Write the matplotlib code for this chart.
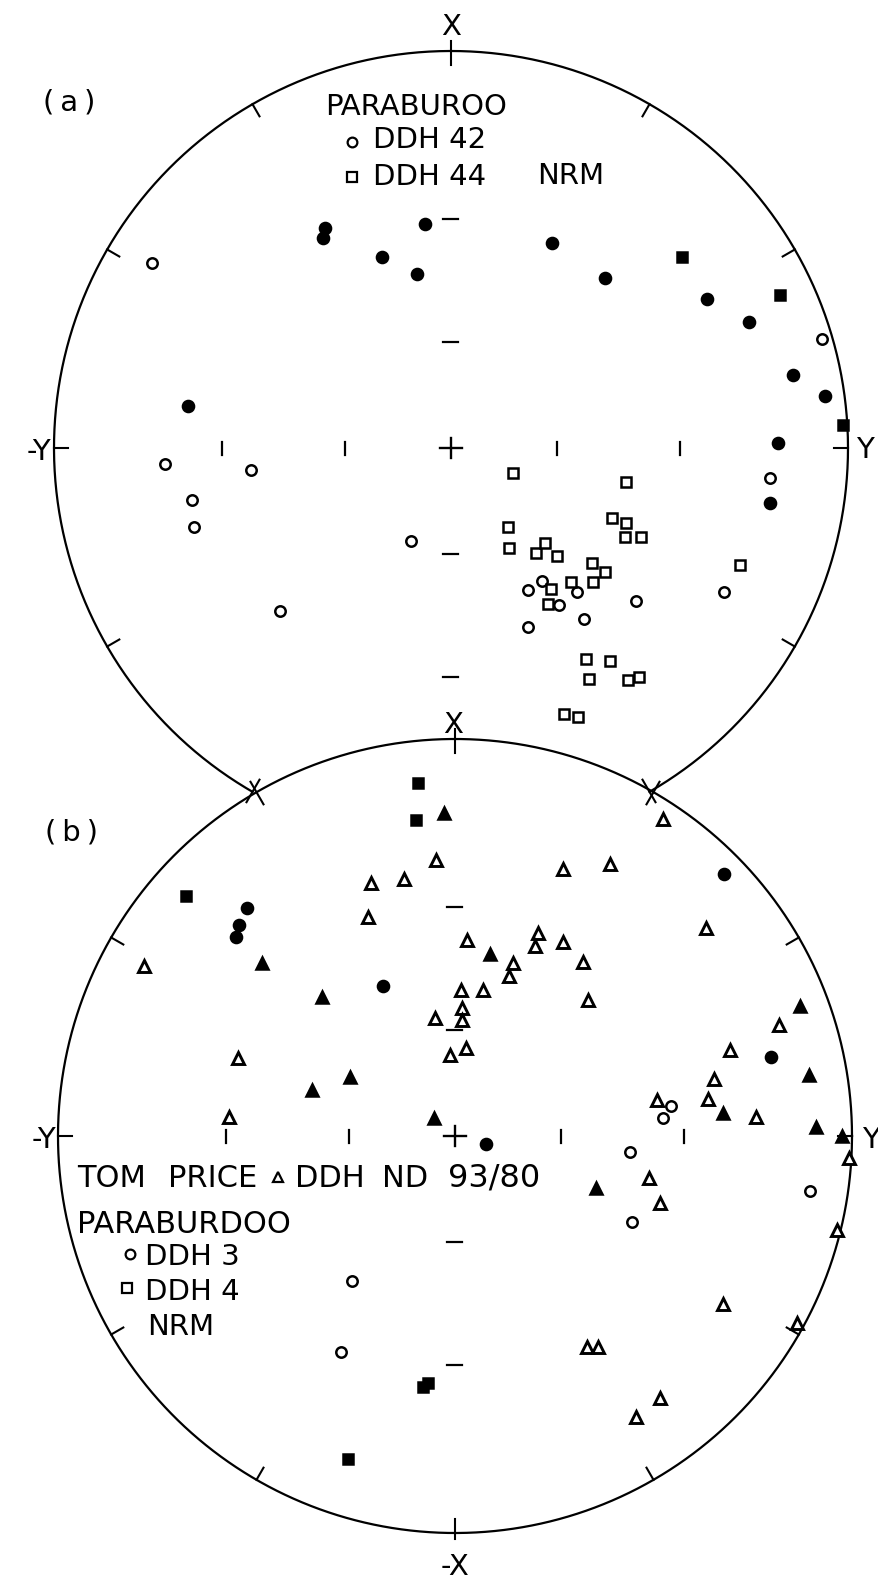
import numpy as np
import matplotlib.pyplot as plt

# page layout in pixels (two stereographic nets, one above the other)
W, H = 879, 1580
R = 397
TOP = (451, 448)
BOT = (455, 1136)

# positions on the net in units of the net radius: e = towards Y, n = towards X
# (a) Paraburoo NRM
a_ddh42_open_e = [-0.753, -0.720, -0.504, -0.652, -0.647, -0.101, -0.431, 0.935, 0.804, 0.688,
                  0.229, 0.194, 0.317, 0.272, 0.466, 0.335, 0.194]
a_ddh42_open_n = [0.466, -0.040, -0.055, -0.131, -0.199, -0.234, -0.411, 0.275, -0.076, -0.363,
                  -0.335, -0.358, -0.363, -0.395, -0.385, -0.431, -0.451]
a_ddh42_full_e = [-0.317, -0.322, -0.065, -0.174, -0.086, 0.254, 0.388, 0.645, 0.751, 0.861,
                  0.942, 0.824, 0.804, -0.662]
a_ddh42_full_n = [0.554, 0.529, 0.564, 0.481, 0.438, 0.516, 0.428, 0.375, 0.317, 0.184,
                  0.131, 0.013, -0.139, 0.106]
a_ddh44_open_e = [0.156, 0.441, 0.144, 0.406, 0.441, 0.438, 0.479, 0.146, 0.214, 0.237,
                  0.267, 0.355, 0.388, 0.358, 0.302, 0.252, 0.244, 0.728, 0.340, 0.401,
                  0.348, 0.446, 0.474, 0.285, 0.320]
a_ddh44_open_n = [-0.063, -0.086, -0.199, -0.176, -0.189, -0.224, -0.224, -0.252, -0.264, -0.239,
                  -0.272, -0.290, -0.312, -0.338, -0.338, -0.355, -0.393, -0.295, -0.531, -0.537,
                  -0.582, -0.584, -0.577, -0.670, -0.678]
a_ddh44_full_e = [0.582, 0.829, 0.987]
a_ddh44_full_n = [0.481, 0.385, 0.058]

# (b) Tom Price DDH ND 93/80 and Paraburdoo NRM
b_nd93_open_e = [-0.048, -0.212, -0.128, -0.219, -0.783, 0.030, 0.015, 0.018, 0.018, -0.050,
                 0.524, 0.272, 0.390, 0.632, 0.209, 0.202, 0.272, 0.146, 0.136, 0.322,
                 0.071, 0.335, 0.816, -0.013, 0.028, -0.547, -0.569, 0.693, 0.652, 0.509,
                 0.637, 0.758, 0.992, 0.489, 0.516, 0.962, 0.675, 0.861, 0.332, 0.360,
                 0.516, 0.456]
b_nd93_open_n = [0.695, 0.637, 0.647, 0.552, 0.428, 0.494, 0.368, 0.322, 0.292, 0.297,
                 0.798, 0.673, 0.685, 0.524, 0.511, 0.479, 0.489, 0.436, 0.403, 0.438,
                 0.368, 0.343, 0.280, 0.204, 0.222, 0.196, 0.048, 0.217, 0.144, 0.091,
                 0.093, 0.048, -0.055, -0.106, -0.169, -0.237, -0.423, -0.471, -0.531, -0.531,
                 -0.660, -0.708]
b_nd93_full_e = [-0.028, -0.486, -0.335, 0.088, 0.869, -0.360, -0.264, -0.053, 0.892, 0.675,
                 0.909, 0.975, 0.355]
b_nd93_full_n = [0.814, 0.436, 0.350, 0.458, 0.327, 0.116, 0.149, 0.045, 0.154, 0.058,
                 0.023, 0.000, -0.131]
b_ddh3_open_e = [0.544, 0.524, 0.441, 0.446, 0.894, -0.259, -0.287]
b_ddh3_open_n = [0.076, 0.045, -0.040, -0.217, -0.139, -0.365, -0.544]
b_ddh3_full_e = [-0.524, -0.544, -0.552, -0.181, 0.678, 0.796, 0.078]
b_ddh3_full_n = [0.574, 0.531, 0.501, 0.378, 0.660, 0.199, -0.020]
b_ddh4_full_e = [-0.093, -0.098, -0.678, -0.081, -0.068, -0.270]
b_ddh4_full_n = [0.889, 0.796, 0.605, -0.632, -0.622, -0.814]

FS = 21


def draw_net(ax, c, arc, outer):
    cx, cy = c
    t = np.radians(np.linspace(arc[0], arc[1], 800))
    ax.plot(cx + R * np.cos(t), cy - R * np.sin(t), color="black", lw=1.6)
    # rim ticks every 30 degrees
    for a in range(0, 360, 30):
        if not (arc[0] <= a <= arc[1] or arc[0] <= a - 360 <= arc[1]):
            continue
        out = outer.get(a, 0)
        ca, sa = np.cos(np.radians(a)), np.sin(np.radians(a))
        r0, r1 = R - 14, R + out
        ax.plot([cx + r0 * ca, cx + r1 * ca], [cy - r0 * sa, cy - r1 * sa],
                color="black", lw=1.5)
    # 30 and 60 degree marks along the axes (stereographic)
    for r in (R * np.tan(np.radians(15)), R * np.tan(np.radians(30))):
        for s in (-1, 1):
            ax.plot([cx + s * r] * 2, [cy - 6.5, cy + 6.5], color="black", lw=1.6)
            ax.plot([cx - 7.5, cx + 7.5], [cy + s * r] * 2, color="black", lw=1.6)
    ax.plot([cx - 11, cx + 11], [cy, cy], color="black", lw=1.7)
    ax.plot([cx, cx], [cy - 10, cy + 10], color="black", lw=1.7)


def plot_set(ax, c, e, n, marker, filled, ms, mew=1.8):
    cx, cy = c
    x = cx + R * np.asarray(e)
    y = cy - R * np.asarray(n)
    ax.plot(x, y, linestyle="none", marker=marker, ms=ms,
            mfc="black" if filled else "white", mec="black", mew=mew)


fig = plt.figure(figsize=(W / 100, H / 100), dpi=100)
ax = fig.add_axes([0, 0, 1, 1])
ax.set_xlim(0, W)
ax.set_ylim(H, 0)
ax.axis("off")

draw_net(ax, TOP, (-60, 240), {90: 10, 240: 12, 300: 12})
draw_net(ax, BOT, (0, 360), {90: 10, 60: 12, 120: 12, 270: 6})

# (a)
plot_set(ax, TOP, a_ddh42_open_e, a_ddh42_open_n, "o", False, 7.5)
plot_set(ax, TOP, a_ddh42_full_e, a_ddh42_full_n, "o", True, 8)
plot_set(ax, TOP, a_ddh44_open_e, a_ddh44_open_n, "s", False, 7.5)
plot_set(ax, TOP, a_ddh44_full_e, a_ddh44_full_n, "s", True, 7.5)

# (b)
plot_set(ax, BOT, b_nd93_open_e, b_nd93_open_n, "^", False, 8, 2.1)
plot_set(ax, BOT, b_nd93_full_e, b_nd93_full_n, "^", True, 8.5)
plot_set(ax, BOT, b_ddh3_open_e, b_ddh3_open_n, "o", False, 7.5)
plot_set(ax, BOT, b_ddh3_full_e, b_ddh3_full_n, "o", True, 8)
plot_set(ax, BOT, b_ddh4_full_e, b_ddh4_full_n, "s", True, 7.5)

# axis letters
txt = dict(fontsize=FS, color="black", va="baseline")
ax.text(451, 35, "X", ha="center", **txt)
ax.text(51, 460, "-Y", ha="right", **txt)
ax.text(856, 458, "Y", ha="left", **txt)
ax.text(453, 733, "X", ha="center", **txt)
ax.text(56, 1148, "-Y", ha="right", **txt)
ax.text(862, 1148, "Y", ha="left", **txt)
ax.text(455, 1575, "-X", ha="center", **txt)

# panel labels and keys
ax.text(43, 111, "(\u2009a\u2009)", ha="left", **txt)
ax.text(45, 840, "(\u2009b\u2009)", ha="left", **txt)

ax.text(325, 115, "PARABUROO", ha="left", **txt)
ax.plot(352, 142, marker="o", ms=7, mfc="white", mec="black", mew=1.6)
ax.text(373, 148, "DDH 42", ha="left", **txt)
ax.plot(352, 177, marker="s", ms=7, mfc="white", mec="black", mew=1.6)
ax.text(373, 185, "DDH 44", ha="left", **txt)
ax.text(537, 184, "NRM", ha="left", **txt)

big = dict(txt, fontsize=22)
ax.text(77, 1187, "TOM", ha="left", **big)
ax.text(168, 1187, "PRICE", ha="left", **big)
ax.plot(278, 1177, marker="^", ms=7, mfc="white", mec="black", mew=1.6)
ax.text(295, 1187, "DDH", ha="left", **big)
ax.text(382, 1187, "ND", ha="left", **big)
ax.text(540, 1187, "93/80", ha="right", **dict(big, fontsize=23))
ax.text(77, 1233, "PARABURDOO", ha="left", **big)
ax.plot(130, 1254, marker="o", ms=7, mfc="white", mec="black", mew=1.6)
ax.text(145, 1265, "DDH 3", ha="left", **txt)
ax.plot(127, 1288, marker="s", ms=7, mfc="white", mec="black", mew=1.6)
ax.text(145, 1300, "DDH 4", ha="left", **txt)
ax.text(147, 1335, "NRM", ha="left", **txt)

fig.savefig("out.png", dpi=100, facecolor="white")
